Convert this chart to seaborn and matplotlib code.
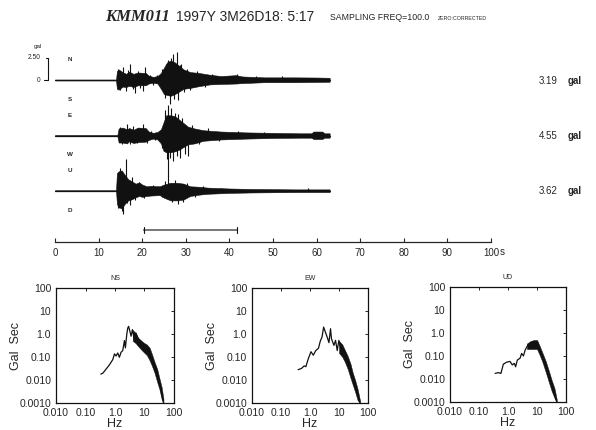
import numpy as np
import matplotlib
matplotlib.use("Agg")
import matplotlib.pyplot as plt
import seaborn as sns

# Datos (tiempo en s, amplitud en gal).
pos_neg = [("N", "S"), ("E", "W"), ("U", "D")]
maximos = ["3.19", "4.55", "3.62"]

# Componente N-S: envolvente superior e inferior y picos.
n_t = [0, 14.0, 14.2, 14.6, 15.5, 16.3, 17, 18, 19, 20.8, 21.5, 22.5, 23.5,
       24.3, 25.0, 25.7, 26.5, 27.5, 28.5, 29.5, 31, 33, 35.5, 38, 41.5, 43,
       48, 55, 60, 63]
n_up = [0.05, 0.05, 1.0, 1.2, 0.9, 0.7, 0.95, 0.7, 0.85, 0.8, 0.5, 0.35, 0.45,
        0.8, 1.4, 2.0, 2.2, 2.0, 1.6, 1.2, 0.9, 0.8, 0.6, 0.45, 0.55, 0.4,
        0.3, 0.3, 0.28, 0.25]
n_dn = [0.05, 0.05, 1.0, 1.1, 0.75, 0.8, 0.65, 0.8, 0.6, 0.6, 0.4, 0.3, 0.4,
        1.0, 1.6, 1.7, 1.8, 1.6, 1.3, 1.0, 0.9, 0.7, 0.5, 0.45, 0.4, 0.35,
        0.25, 0.25, 0.22, 0.2]
n_pico_t = [14.5, 14.8, 15.5, 16.2, 16.8, 17.2, 17.8, 18.3, 19.0, 19.6, 20.2,
            20.7, 21.8, 22.5, 23.3, 24.6, 24.9, 25.2, 25.5, 26.0, 26.3, 26.7,
            27.1, 27.4, 27.9, 28.3, 28.7, 29.0, 29.5, 30.2, 31.0, 32.5, 34.5,
            36.0, 41.7, 46, 52]
n_pico_a = [1.3, -1.1, 1.45, -1.3, 1.1, 1.8, -1.0, -1.5, 1.0, -0.9, -1.3,
            1.45, 0.6, -0.55, 0.6, 1.3, -1.5, -2.0, 1.8, 2.3, -2.7, 2.5,
            2.9, -2.2, 3.19, -2.3, 1.7, 1.8, -1.4, 1.3, -1.1, 1.0, -0.8,
            0.7, 0.65, 0.45, 0.4]

# Componente E-W.
e_t = [0, 14.3, 14.6, 15.5, 16.5, 17, 18, 19, 20.8, 21.5, 22.5, 23.5, 24.3,
       24.9, 25.5, 26.5, 27.5, 28.5, 29.5, 30.5, 32, 34, 38, 44, 50, 56, 58.8,
       59.3, 61.3, 61.8, 63]
e_up = [0.05, 0.05, 0.8, 0.9, 0.7, 0.85, 0.65, 0.9, 0.85, 0.45, 0.3, 0.4, 0.7,
        1.5, 2.3, 2.3, 2.2, 1.8, 1.4, 1.0, 0.8, 0.6, 0.45, 0.35, 0.3, 0.25,
        0.25, 0.45, 0.45, 0.25, 0.25]
e_dn = [0.05, 0.05, 0.8, 0.8, 0.9, 0.65, 0.85, 0.75, 0.7, 0.5, 0.35, 0.45,
        0.9, 1.75, 1.9, 1.9, 1.8, 1.6, 1.3, 1.0, 0.9, 0.6, 0.45, 0.35, 0.28,
        0.25, 0.25, 0.4, 0.4, 0.25, 0.25]
e_pico_t = [14.8, 15.3, 16.4, 17.3, 18.0, 18.7, 19.5, 20.2, 21.0, 22.0, 23.0,
            24.5, 25.3, 25.6, 25.9, 26.0, 26.3, 26.7, 27.1, 27.5, 27.9, 28.3,
            28.7, 29.1, 29.8, 30.6, 31.5, 33.0, 35.0, 37.5, 42, 48]
e_pico_a = [1.0, -1.0, 1.3, -1.0, 1.1, -0.9, 0.9, 1.35, -0.8, 0.55, -0.5,
            -1.4, 2.9, -2.65, 3.5, -4.55, -2.5, 3.1, -2.85, 2.6, -2.3, 2.4,
            -2.5, 2.0, -2.1, -2.3, 1.2, -1.0, 0.8, -0.6, 0.5, 0.4]

# Componente U-D.
u_t = [0, 14.0, 14.2, 14.6, 15.3, 16.0, 16.8, 17.5, 18.5, 19.3, 20, 21, 22,
       24, 25, 26.5, 28, 29.5, 31, 33, 35, 40, 45, 55, 63]
u_up = [0.05, 0.05, 2.0, 2.2, 2.3, 1.8, 1.3, 1.1, 0.8, 0.95, 0.7, 0.5, 0.55,
        0.5, 0.7, 0.9, 0.9, 0.8, 0.5, 0.45, 0.35, 0.25, 0.2, 0.15, 0.15]
u_dn = [0.05, 0.05, 1.5, 1.9, 2.0, 1.5, 1.1, 1.0, 0.75, 0.6, 0.7, 0.6, 0.55,
        0.5, 0.8, 1.1, 1.1, 1.0, 0.6, 0.45, 0.35, 0.25, 0.2, 0.15, 0.15]
u_pico_t = [14.4, 14.9, 15.2, 15.4, 15.7, 16.3, 16.6, 17.1, 17.6, 18.3, 19.2,
            20.5, 22.5, 24.5, 25.3, 26.0, 26.8, 27.6, 28.2, 29.3, 30.3, 32.0,
            34.0, 38.0, 58.0]
u_pico_a = [-2.0, 2.6, 2.15, -2.3, -2.65, 3.62, -1.4, -1.6, 1.6, -1.1, 1.0,
            -0.8, 0.7, -0.7, 1.1, 1.8, -1.3, 1.2, -1.5, -1.3, 0.9, -0.7,
            0.5, 0.35, 0.3]

# Ventana usada para el espectro (s).
ventana = [20.3, 41.8]

# Espectros de Fourier (Hz, gal*s).
ns_f = [0.33, 0.39, 0.48, 0.65, 0.84, 0.96, 1.09, 1.24, 1.41, 1.6, 1.83, 2.09,
        2.25, 2.5, 2.7, 2.9, 3.2, 3.5, 3.9, 4.5, 5.1, 6.7, 8.6, 11.0, 14.4,
        18.5, 24, 31, 40, 44]
ns_a = [0.018, 0.02, 0.028, 0.046, 0.077, 0.137, 0.11, 0.15, 0.097, 0.16, 0.19,
        0.52, 0.25, 0.93, 1.8, 2.15, 1.3, 0.8, 1.55, 0.57, 1.1, 0.48, 0.34,
        0.25, 0.15, 0.077, 0.028, 0.009, 0.002, 0.001]
ns_banda_f = [4, 5, 6, 8, 10, 12, 15, 18, 22, 27, 32, 38, 44]
ns_banda_lo = [0.5, 0.4, 0.3, 0.2, 0.15, 0.12, 0.07, 0.04, 0.02, 0.008, 0.004, 0.0015, 0.001]
ns_banda_hi = [1.5, 1.1, 0.7, 0.5, 0.4, 0.35, 0.25, 0.13, 0.06, 0.03, 0.012, 0.005, 0.0015]

ew_f = [0.39, 0.51, 0.63, 0.72, 0.87, 1.08, 1.3, 1.58, 1.96, 2.25, 2.6, 2.95,
        3.4, 3.9, 4.5, 5.1, 5.5, 6.7, 7.6, 8.7, 9.9, 11.3, 14.9, 19.5, 25.6,
        33.7, 44, 53]
ew_a = [0.028, 0.032, 0.041, 0.038, 0.083, 0.17, 0.12, 0.19, 0.24, 0.48, 0.74,
        2.0, 1.2, 0.74, 0.42, 1.7, 0.62, 0.32, 0.53, 0.19, 0.53, 0.27, 0.19,
        0.083, 0.03, 0.009, 0.0028, 0.001]
ew_banda_f = [10, 13, 16, 20, 25, 30, 36, 44, 53]
ew_banda_lo = [0.15, 0.1, 0.06, 0.03, 0.012, 0.006, 0.003, 0.0013, 0.001]
ew_banda_hi = [0.5, 0.35, 0.2, 0.11, 0.05, 0.02, 0.01, 0.004, 0.0013]

ud_f = [0.36, 0.46, 0.57, 0.69, 0.9, 1.17, 1.41, 1.65, 1.83, 2.1, 2.6, 2.95,
        3.4, 3.9, 4.8, 5.7, 6.9, 8.5, 10.5, 11.6, 14.4, 18.9, 24.6, 32, 39.6, 48]
ud_a = [0.0175, 0.019, 0.0175, 0.044, 0.054, 0.058, 0.041, 0.048, 0.034, 0.067,
        0.08, 0.13, 0.1, 0.18, 0.3, 0.22, 0.35, 0.26, 0.4, 0.22, 0.11, 0.041,
        0.015, 0.0055, 0.0023, 0.001]
ud_banda_f = [4.5, 6, 8, 10, 12, 15, 20, 25, 32, 40, 48]
ud_banda_lo = [0.2, 0.2, 0.2, 0.2, 0.12, 0.06, 0.02, 0.008, 0.003, 0.0015, 0.001]
ud_banda_hi = [0.35, 0.45, 0.5, 0.5, 0.3, 0.15, 0.06, 0.025, 0.009, 0.004, 0.0013]

espectros = [("NS", ns_f, ns_a, ns_banda_f, ns_banda_lo, ns_banda_hi),
             ("EW", ew_f, ew_a, ew_banda_f, ew_banda_lo, ew_banda_hi),
             ("UD", ud_f, ud_a, ud_banda_f, ud_banda_lo, ud_banda_hi)]

# Estilo.
sns.set_style("white")
plt.rcParams['font.family'] = ['Liberation Sans', 'DejaVu Sans']
tinta = '#111111'

W, H = 596, 430
def caja(izq, arriba, ancho, alto):
    return [izq / W, 1 - (arriba + alto) / H, ancho / W, alto / H]

fig = plt.figure(figsize=(W / 100, H / 100), dpi=100)

# Encabezado.
fig.text(105 / W, 1 - 17 / H, 'KMM011', family='Liberation Serif',
         fontweight='bold', style='italic', fontsize=12, va='center')
fig.text(176 / W, 1 - 17 / H, '1997Y 3M26D18: 5:17', fontsize=10, va='center')
fig.text(330 / W, 1 - 18 / H, 'SAMPLING FREQ=100.0', fontsize=6.3, va='center')
fig.text(438 / W, 1 - 18 / H, 'ZERO:CORRECTED', fontsize=3.8, va='center')

''' ========================= SISMOGRAMAS ========================= '''

px_gal = 8.8
ax = fig.add_axes(caja(55, 40, 436, 202))
ax.set_xlim(0, 100)
ax.set_ylim(-202 / px_gal, 0)
bases = [-(80 - 40) / px_gal, -(135.5 - 40) / px_gal, -(190.7 - 40) / px_gal]

datos = [(n_t, n_up, n_dn, n_pico_t, n_pico_a),
         (e_t, e_up, e_dn, e_pico_t, e_pico_a),
         (u_t, u_up, u_dn, u_pico_t, u_pico_a)]

for k, (t, up, dn, pt, pa) in enumerate(datos):
    b = bases[k]
    t = np.array(t)
    ax.fill_between(t, b + np.array(up), b - np.array(dn), color=tinta, lw=0.4)
    ax.plot([0, t[-1]], [b, b], color=tinta, lw=0.9)
    ax.vlines(pt, b, b + np.array(pa), color=tinta, lw=0.8)
    # Etiquetas de polaridad.
    ax.text(3.4, b + 2.3, pos_neg[k][0], fontsize=4.5, fontweight='bold',
            ha='center', va='center')
    ax.text(3.4, b - 2.2, pos_neg[k][1], fontsize=4.5, fontweight='bold',
            ha='center', va='center')
    # Amplitud máxima.
    ax.text(111, b - 0.4, maximos[k], fontsize=7, ha='left', va='baseline',
            clip_on=False)
    ax.text(117.5, b - 0.4, 'gal', fontsize=7, fontweight='bold',
            ha='left', va='baseline', clip_on=False)

# Escala de amplitud.
b = bases[0]
ax.plot([-2.0, -1.6, -1.6, -2.5], [b + 2.5, b + 2.5, b, b], color=tinta,
        lw=0.8, clip_on=False)
ax.text(-3.3, b + 2.6, '2.50', fontsize=4.8, ha='right', va='center')
ax.text(-3.3, b, '0', fontsize=4.8, ha='right', va='center')
ax.text(-3.8, b + 3.8, 'gal', fontsize=4.5, ha='center', va='center')

# Ventana del espectro.
yv = -(230 - 40) / px_gal
ax.annotate('', xy=(ventana[1], yv), xytext=(ventana[0], yv),
            arrowprops=dict(arrowstyle='|-|', lw=0.8, color=tinta,
                            mutation_scale=2.5, shrinkA=0, shrinkB=0))

# Eje de tiempo.
sns.despine(ax=ax, left=True)
ax.spines['bottom'].set_linewidth(0.9)
ax.set_yticks([])
ax.set_xticks(range(0, 101, 10))
ax.tick_params(axis='x', direction='in', length=3, width=0.8, labelsize=7,
               pad=4, bottom=True)
ax.text(102, -202 / px_gal - 0.55, 's', fontsize=7, va='top', ha='left')

''' ========================== ESPECTROS ========================== '''

cajas = [caja(56, 288, 118, 115), caja(252, 288, 116, 115), caja(450, 287, 116, 115)]
etq_x = ['0.010', '0.10', '1.0', '10', '100']
etq_y = ['0.0010', '0.010', '0.10', '1.0', '10', '100']

for c, (nombre, f, a, bf, blo, bhi) in zip(cajas, espectros):
    axs = fig.add_axes(c)
    axs.set_xscale('log')
    axs.set_yscale('log')
    sns.lineplot(x=f, y=a, ax=axs, color=tinta, lw=0.9, sort=False,
                 estimator=None)
    axs.fill_between(bf, blo, bhi, color=tinta, lw=0.3)
    axs.set_xlim(0.01, 100)
    axs.set_ylim(0.001, 100)
    axs.set_xticks([0.01, 0.1, 1, 10, 100])
    axs.set_xticklabels(etq_x)
    axs.set_yticks([0.001, 0.01, 0.1, 1, 10, 100])
    axs.set_yticklabels(etq_y)
    axs.minorticks_off()
    axs.tick_params(direction='in', length=2.5, width=0.7, labelsize=7.5,
                    top=True, right=True, pad=3.5)
    for s in axs.spines.values():
        s.set_linewidth(0.9)
        s.set_color(tinta)
    axs.set_title(nombre, fontsize=5, pad=6)
    axs.set_xlabel('Hz', fontsize=9, labelpad=0)
    axs.set_ylabel('Gal  Sec', fontsize=9)
    axs.yaxis.set_label_coords(-0.29, 0.5)

fig.savefig('out.png', dpi=100, facecolor='white')
